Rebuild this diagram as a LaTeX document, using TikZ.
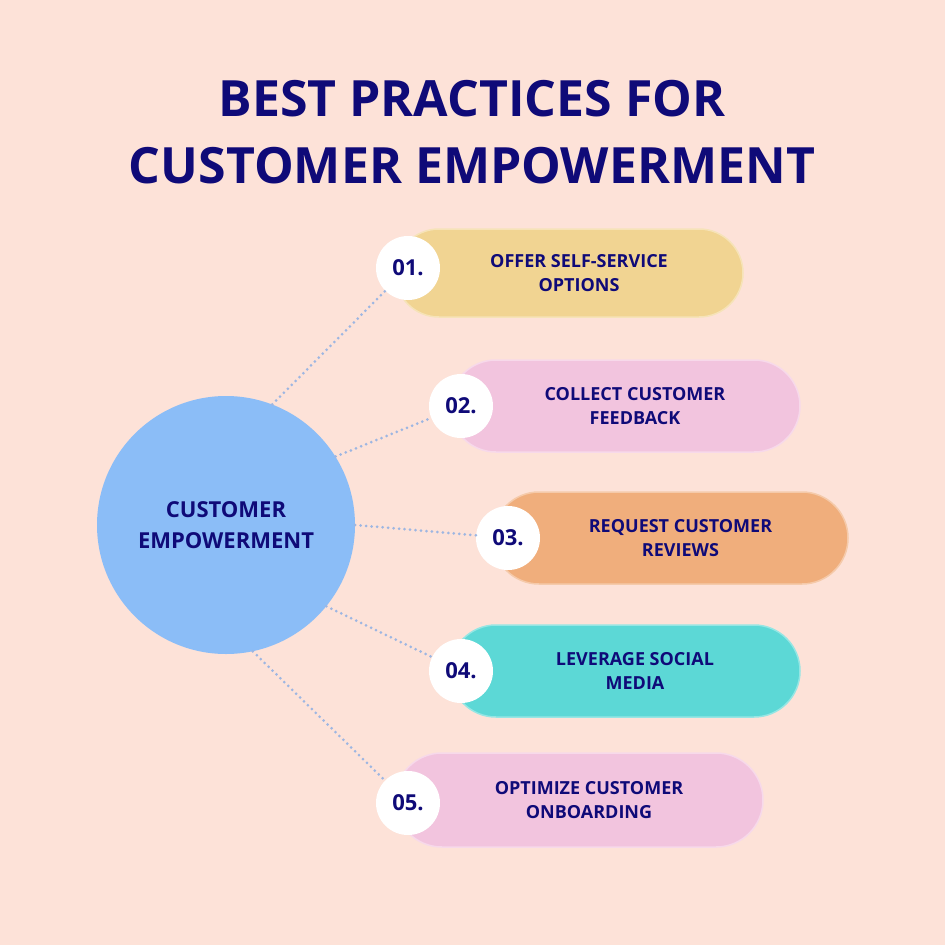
\documentclass[tikz,border=0pt]{standalone}
\usepackage{fontspec}
\setmainfont{Open Sans}
\usetikzlibrary{positioning}
\definecolor{bgpeach}{HTML}{FDE2D8}
\definecolor{navy}{HTML}{0F0A78}
\definecolor{hubblue}{HTML}{8BBDF7}
\definecolor{linkblue}{HTML}{9DB6E2}
\definecolor{pillyellow}{HTML}{F1D492}
\definecolor{pillpink}{HTML}{F2C4DE}
\definecolor{pillorange}{HTML}{F0AE7C}
\definecolor{pillcyan}{HTML}{5CD8D6}
\begin{document}
\begin{tikzpicture}[x=1pt,y=-1pt,
		hub/.style={circle,fill=hubblue,minimum size=258pt,inner sep=0pt,align=center,
			text=navy,font=\bfseries\fontsize{22}{31}\selectfont},
		num/.style={circle,fill=white,minimum size=64pt,inner sep=0pt,text=navy,
			font=\bfseries\fontsize{22}{24}\selectfont},
		link/.style={linkblue,line width=3pt,dash pattern=on 0pt off 5.5pt,line cap=round}]
		\fill[bgpeach] (0,0) rectangle (945,945);
		\useasboundingbox (0,0) rectangle (945,945);
		
		\node[text=navy,font=\bfseries\fontsize{50}{67}\selectfont,align=center] (title) at (472,132)
			{BEST PRACTICES FOR\\CUSTOMER EMPOWERMENT};
		
		\node[hub] (hub) at (226,525) {CUSTOMER\\EMPOWERMENT};
		
		% pills: x-left, x-right, y, half height, colour, number, text
		\foreach \l/\r/\y/\h/\c/\n/\t in {
			395/743/273/44/pillyellow/1/{OFFER SELF-SERVICE\\OPTIONS},
			450/800/406/46/pillpink/2/{COLLECT CUSTOMER\\FEEDBACK},
			493/848/538/46/pillorange/3/{REQUEST CUSTOMER\\REVIEWS},
			450/800/671/46/pillcyan/4/{LEVERAGE SOCIAL\\MEDIA},
			395/763/800/47/pillpink/5/{OPTIMIZE CUSTOMER\\ONBOARDING}}{
			\fill[\c,rounded corners=\h pt] (\l,\y-\h) rectangle (\r,\y+\h);
			\draw[white!35!\c,line width=1.5pt,rounded corners=\h pt] (\l,\y-\h) rectangle (\r,\y+\h);
			\node[text=navy,font=\bfseries\fontsize{18}{24}\selectfont,align=center] (txt\n) at ({(\l+\r)/2+10},\y) {\t};
		}
		\node[num] (n1) at (408,268) {01.};
		\node[num] (n2) at (461,406) {02.};
		\node[num] (n3) at (508,538) {03.};
		\node[num] (n4) at (461,671) {04.};
		\node[num] (n5) at (408,803) {05.};
		
		\draw[link] (hub.69) -- (n1);
		\draw[link] (hub.32) -- (n2);
		\draw[link] (hub.east) -- (n3);
		\draw[link] (hub.-39) -- (n4);
		\draw[link] (hub.-78) -- (n5);
\end{tikzpicture}
\end{document}
